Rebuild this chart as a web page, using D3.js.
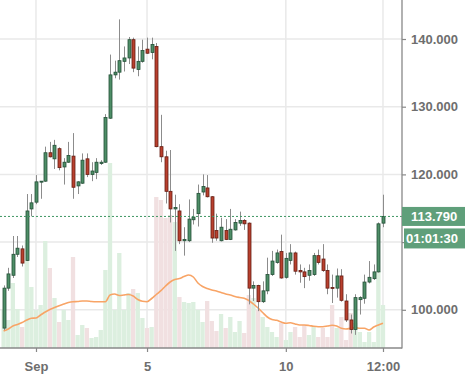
<!DOCTYPE html>
<html><head><meta charset="utf-8">
<script src="https://cdn.jsdelivr.net/npm/d3@7"></script>
<style>html,body{margin:0;padding:0;background:#fff;overflow:hidden}</style>
</head><body><svg id="c" width="465" height="384"></svg>
<script>
// ---- data (4h candles, first at 2018-08-30 20:00 UTC) ----
const opens = [97.3,103.2,105.1,108.2,109.0,107.3,114.9,115.9,118.9,119.0,
123.2,122.3,123.8,121.1,121.8,122.7,118.3,118.7,122.3,120.0,
120.3,121.6,121.8,128.3,134.7,135.1,136.7,137.2,139.9,135.5,
136.7,138.5,138.0,138.9,124.1,122.6,117.5,114.9,114.6,110.2,
110.2,113.3,114.2,117.4,118.0,116.7,111.7,110.2,111.7,110.4,
111.8,112.8,113.2,112.8,103.2,103.6,101.2,102.8,105.2,107.0,
108.6,104.8,107.3,108.4,105.8,105.6,105.1,105.2,108.0,107.5,
105.8,103.3,103.2,105.0,101.3,98.5,97.1,101.5,101.7,104.1,
104.6,105.6,112.8];
const highs = [103.6,106.2,110.9,110.9,109.5,117.1,117.1,119.9,119.0,124.1,
124.8,125.1,124.0,122.4,124.8,126.1,119.0,123.1,123.1,121.8,
122.4,122.1,128.9,137.7,136.8,142.9,138.9,140.3,140.2,138.9,
139.9,140.2,140.2,139.4,128.8,123.5,123.6,117.0,115.6,112.2,
116.3,114.9,118.5,120.0,119.9,116.8,114.2,113.6,113.4,114.9,
113.4,114.5,113.4,112.9,104.2,103.7,104.2,107.7,108.7,108.9,
111.1,108.4,109.7,108.6,106.7,106.2,106.7,108.4,108.9,109.7,
106.7,105.2,106.1,106.0,102.3,99.3,102.3,102.0,105.2,107.2,
106.7,112.9,117.0];
const lows = [97.0,102.8,104.7,107.8,106.4,107.2,113.8,115.6,116.4,118.9,
122.5,120.8,120.6,118.5,121.7,116.4,117.1,118.6,119.6,119.0,
119.3,121.4,121.7,128.2,134.2,134.0,135.2,136.3,135.1,134.5,
136.5,137.8,137.0,124.0,121.8,115.7,112.9,108.7,109.7,108.0,
110.0,112.6,112.3,116.9,116.6,109.9,110.2,110.1,110.3,110.3,
111.7,112.4,111.8,100.8,101.3,99.8,101.0,102.3,105.0,106.8,
104.6,104.6,106.7,105.2,104.0,103.2,104.3,105.0,106.7,105.6,
102.3,101.0,101.8,101.2,98.2,96.5,96.3,99.3,100.9,103.9,
104.4,105.5,112.2];
const closes = [103.2,105.3,108.2,109.1,106.9,114.6,115.8,118.9,119.0,123.2,
122.6,124.3,121.0,121.8,122.8,118.1,118.9,122.1,120.0,120.5,
121.8,121.8,128.4,134.7,135.1,136.8,137.2,139.9,135.7,136.7,
138.3,137.9,139.2,124.1,122.6,117.5,114.9,115.1,110.2,110.4,
113.4,113.7,117.2,118.2,116.7,110.6,110.6,112.2,110.4,111.9,
112.9,113.2,112.7,103.2,103.6,101.2,102.8,105.2,107.2,108.4,
104.7,107.6,108.4,105.7,105.6,104.9,105.8,108.0,107.0,105.8,
103.2,103.2,105.0,101.4,98.5,97.1,101.8,101.8,104.1,104.8,
105.6,112.7,113.79];
const volumes = [38,28,65,39,21,108,61,38,43,107,
80,50,26,38,28,91,13,23,20,10,
11,18,78,185,38,95,38,55,59,55,
30,20,21,151,148,130,133,126,51,46,
45,46,38,26,47,27,17,34,20,31,
16,27,15,53,50,38,31,21,16,11,
25,8,16,21,11,23,13,21,11,20,
11,43,20,31,8,35,25,16,6,16,
6,77,43];
const volumeMA = [17,19,22,23.5,25.5,28,29.7,30,33,36,
38.5,40.5,42.3,44,45.5,46.3,46.5,47,47,46.5,
46.3,46.3,46.3,53,54,52.5,53,53.5,52,48.5,
46.7,46.3,49.5,53.5,57.3,62,66,68.5,69.5,71.5,
73,71,65,61.5,59.5,58,57,55.5,54,53,
51.5,50.5,49.7,47.5,44,40,35.5,31,28.5,27.7,
26,24.7,25.3,24,23,23,22.5,21.7,21.3,21.3,
22,22.8,22,19.7,19,19.7,20.3,19.7,19.7,18,
21,23,24.7];
const yTicks = [100,110,120,130,140];
const xTickDates = ["2018-09-01T00:00Z","2018-09-05T00:00Z","2018-09-10T00:00Z","2018-09-13T12:00Z"];
const xTickLabels = ["Sep","5","10","12:00"];
const countdown = "01:01:30";

// ---- layout ----
const plotR = 402, plotB = 348;
const svg = d3.select('#c');
const times = d3.utcHour.every(4).range(new Date(Date.UTC(2018,7,30,20)), new Date(Date.UTC(2018,8,13,13)));
const data = times.map((t,i)=>({t, o:opens[i], h:highs[i], l:lows[i], c:closes[i], v:volumes[i], ma:volumeMA[i]}));

const x = d3.scaleUtc().domain([new Date(Date.UTC(2018,7,30,16,53)), new Date(Date.UTC(2018,8,14,4,26))]).range([0, plotR]);
const y = d3.scaleLinear().domain([100,140]).range([309.8,39]);
const yv = d3.scaleLinear().domain([0,200]).range([plotB,148]);
const xTicks = xTickDates.map(d=>new Date(d));

svg.append('defs').append('clipPath').attr('id','clip')
  .append('rect').attr('x',0).attr('y',0).attr('width',plotR).attr('height',plotB);

// grid
const grid = svg.append('g').attr('stroke','#e9e9e9').attr('stroke-width',1.5);
grid.selectAll('.hy').data(yTicks).join('line')
  .attr('x1',0).attr('x2',plotR).attr('y1',d=>y(d)).attr('y2',d=>y(d));
grid.selectAll('.vx').data(xTicks).join('line')
  .attr('x1',d=>x(d)).attr('x2',d=>x(d)).attr('y1',0).attr('y2',plotB);

const plot = svg.append('g').attr('clip-path','url(#clip)');

// volume bars
const bw = 4.3;
plot.append('g').selectAll('rect').data(data).join('rect')
  .attr('x',d=>x(d.t)-bw/2).attr('width',bw)
  .attr('y',d=>yv(d.v)).attr('height',d=>plotB-yv(d.v))
  .attr('fill',d=>d.c>=d.o?'#dcefdf':'#f1e0e1');

// volume MA
plot.append('path').datum(data)
  .attr('fill','none').attr('stroke','#f8a466').attr('stroke-width',1.6)
  .attr('d', d3.line().x(d=>x(d.t)).y(d=>yv(d.ma)).curve(d3.curveMonotoneX));

// candles
const cg = plot.append('g');
cg.selectAll('line').data(data).join('line')
  .attr('x1',d=>Math.round(x(d.t))+0.5).attr('x2',d=>Math.round(x(d.t))+0.5)
  .attr('y1',d=>y(d.h)).attr('y2',d=>y(d.l))
  .attr('stroke','#8c8c8c').attr('stroke-width',1);
const cw = 3;
cg.selectAll('rect').data(data).join('rect')
  .attr('x',d=>Math.round(x(d.t))+0.5-cw/2).attr('width',cw)
  .attr('y',d=>y(Math.max(d.o,d.c))).attr('height',d=>Math.max(1,Math.abs(y(d.o)-y(d.c))))
  .attr('fill',d=>d.c>=d.o?'#4e8e67':'#b9402e')
  .attr('stroke',d=>d.c>=d.o?'#244f37':'#651c12').attr('stroke-width',0.8);

// last price dotted line
const last = data[data.length-1];
const ly = y(last.c);
svg.append('line').attr('x1',0).attr('x2',plotR).attr('y1',ly).attr('y2',ly)
  .attr('stroke','#3f9663').attr('stroke-width',1).attr('stroke-dasharray','2,2');

// axes
const font = '"Liberation Sans", Arial, sans-serif';
const boxTop = ly - 9.5, boxBottom = ly + 32;
const yAxis = svg.append('g').attr('transform',`translate(${plotR},0)`)
  .call(d3.axisRight(y).tickValues(yTicks)
    .tickFormat(d => (y(d) > boxTop - 6 && y(d) < boxBottom + 6) ? '' : d3.format('.3f')(d))
    .tickSize(4).tickPadding(5));
const xAxis = svg.append('g').attr('transform',`translate(0,${plotB})`)
  .call(d3.axisBottom(x).tickValues(xTicks).tickFormat((d,i)=>xTickLabels[i]).tickSize(4).tickPadding(10));
[yAxis,xAxis].forEach(a=>{
  a.select('.domain').remove();
  a.selectAll('.tick line').attr('stroke','#888').attr('stroke-width',1.2);
  a.selectAll('text').attr('fill','#6e6e6e').attr('font-family',font).attr('font-size',13).attr('font-weight','bold');
});
svg.append('line').attr('x1',plotR).attr('x2',plotR).attr('y1',0).attr('y2',plotB+0.5).attr('stroke','#888').attr('stroke-width',1.3);
svg.append('line').attr('x1',0).attr('x2',plotR).attr('y1',plotB).attr('y2',plotB).attr('stroke','#888').attr('stroke-width',1.3);

// price & countdown labels
svg.append('rect').attr('x',plotR).attr('y',ly-9.5).attr('width',63).attr('height',19).attr('fill','#5f9f7a');
svg.append('text').attr('x',411).attr('y',ly).attr('dy','0.35em').text(d3.format('.3f')(last.c))
  .attr('fill','#fff').attr('font-family',font).attr('font-size',13).attr('font-weight','bold');
svg.append('rect').attr('x',plotR+2).attr('y',ly+12).attr('width',61).attr('height',20).attr('fill','#5f9f7a');
svg.append('text').attr('x',406).attr('y',ly+22).attr('dy','0.35em').text(countdown)
  .attr('fill','#fff').attr('font-family',font).attr('font-size',13).attr('font-weight','bold');
</script>
</body></html>
